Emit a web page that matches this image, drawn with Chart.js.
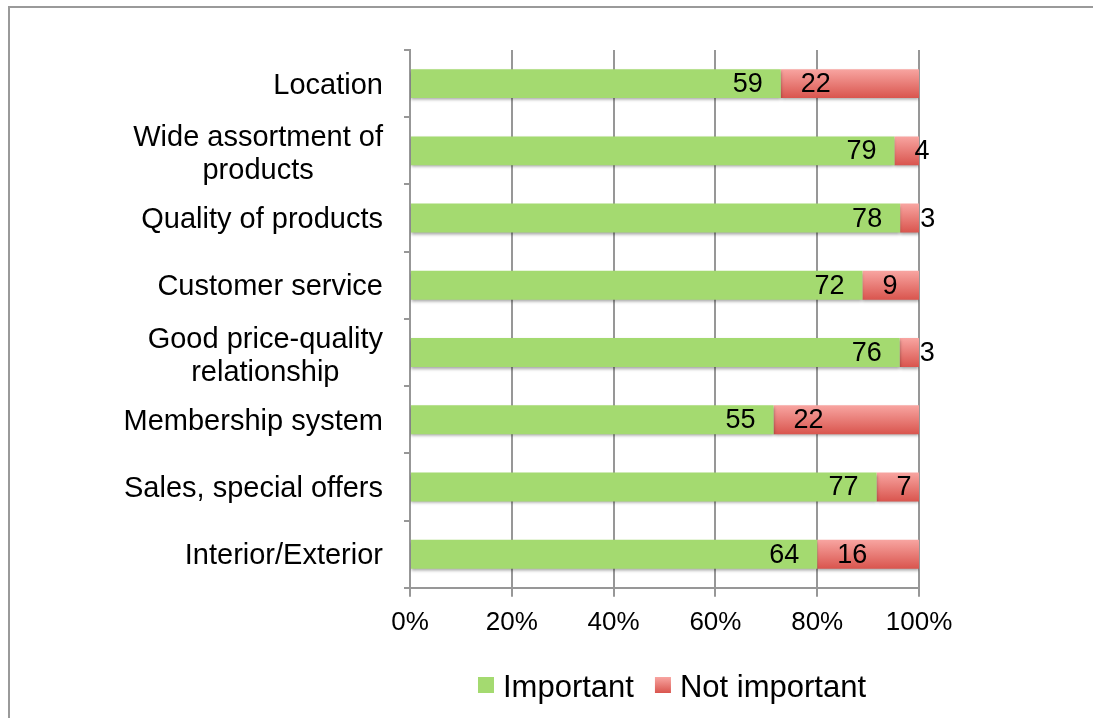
<!DOCTYPE html>
<html>
<head>
<meta charset="utf-8">
<script src="https://cdn.jsdelivr.net/npm/chart.js@4.4.1/dist/chart.umd.min.js"></script>
<style>
  html, body { margin: 0; padding: 0; background: #fff; overflow: hidden; }
  .frame {
    position: absolute; left: 8px; top: 6px; width: 1200px; height: 800px;
    border-left: 2px solid #9a9a9a; border-top: 2px solid #9a9a9a;
  }
  #chart { position: absolute; left: 0; top: 0; z-index: 1; }
</style>
</head>
<body>
<div class="frame"></div>
<canvas id="chart" width="1093" height="718"></canvas>
<script>
// Survey answers per store attribute (number of respondents)
const categories = [
  "Location",
  ["Wide assortment of", "products"],
  "Quality of products",
  "Customer service",
  ["Good price-quality", "relationship"],
  "Membership system",
  "Sales, special offers",
  "Interior/Exterior",
];
const important = [59, 79, 78, 72, 76, 55, 77, 64];
const notImportant = [22, 4, 3, 9, 3, 22, 7, 16];
const xTicks = [0, 20, 40, 60, 80, 100];

const FONT = "'Liberation Sans', Arial, sans-serif";
const GREEN = "#a4da70";
const RED_TOP = "#f8a5a1";
const RED_BOTTOM = "#d9554e";
const GRID = "#979797";
const BAR_PCT = 0.43;

// 100% stacked shares
const totals = important.map((v, i) => v + notImportant[i]);
const importantPct = important.map((v, i) => (v / totals[i]) * 100);
const notImportantPct = notImportant.map((v, i) => (v / totals[i]) * 100);

// pink-to-red vertical gradient for each "Not important" bar
function redFill(context) {
  const chart = context.chart;
  if (!chart.chartArea || !chart.scales.y) return "#ec7e78";
  const y = chart.scales.y;
  const center = y.getPixelForValue(context.dataIndex);
  const half = (y.height / categories.length) * BAR_PCT / 2;
  const g = chart.ctx.createLinearGradient(0, center - half, 0, center + half);
  g.addColorStop(0, RED_TOP);
  g.addColorStop(1, RED_BOTTOM);
  return g;
}

// soft shadow under the bars
const barShadow = {
  id: "barShadow",
  beforeDatasetsDraw(chart) {
    const ctx = chart.ctx;
    ctx.save();
    ctx.shadowColor = "rgba(0,0,0,0.35)";
    ctx.shadowBlur = 3;
    ctx.shadowOffsetY = 2;
  },
  afterDatasetsDraw(chart) {
    chart.ctx.restore();
  },
};

// value labels: end of the green part, start of the red part
const valueLabels = {
  id: "valueLabels",
  afterDatasetsDraw(chart) {
    const ctx = chart.ctx;
    ctx.save();
    ctx.font = "27px " + FONT;
    ctx.fillStyle = "#000";
    ctx.textBaseline = "middle";
    const values = [important, notImportant];
    [0, 1].forEach((ds) => {
      chart.getDatasetMeta(ds).data.forEach((bar, i) => {
        if (ds === 0) {
          ctx.textAlign = "right";
          ctx.fillText(values[ds][i], bar.x - 18, bar.y + 1);
        } else {
          ctx.textAlign = "left";
          ctx.fillText(values[ds][i], bar.base + 20, bar.y + 1);
        }
      });
    });
    ctx.restore();
  },
};

// category names: right-aligned block, wrapped lines centred within it
const categoryLabels = {
  id: "categoryLabels",
  afterDraw(chart) {
    const ctx = chart.ctx;
    const y = chart.scales.y;
    const right = chart.chartArea.left - 27;
    const lineH = 33;
    ctx.save();
    ctx.font = "29px " + FONT;
    ctx.fillStyle = "#000";
    ctx.textBaseline = "middle";
    ctx.textAlign = "center";
    categories.forEach((label, i) => {
      const lines = Array.isArray(label) ? label : [label];
      const widest = Math.max(...lines.map((l) => ctx.measureText(l).width));
      const cx = right - widest / 2;
      const cy = y.getPixelForValue(i) + (lines.length > 1 ? 4 : 2);
      lines.forEach((line, j) => {
        ctx.fillText(line, cx, cy + (j - (lines.length - 1) / 2) * lineH);
      });
    });
    ctx.restore();
  },
};

// legend under the x axis
const bottomLegend = {
  id: "bottomLegend",
  afterDraw(chart) {
    const ctx = chart.ctx;
    const box = 16, gap = 9, itemGap = 21;
    const centerX = 672, boxTop = 677;
    ctx.save();
    ctx.font = "31px " + FONT;
    ctx.textBaseline = "middle";
    ctx.textAlign = "left";
    const items = chart.data.datasets.map((d) => ({ text: d.label, w: ctx.measureText(d.label).width }));
    const total = items.reduce((s, it) => s + box + gap + it.w, 0) + itemGap * (items.length - 1);
    let x = centerX - total / 2;
    items.forEach((it, i) => {
      if (i === 0) {
        ctx.fillStyle = GREEN;
      } else {
        const g = ctx.createLinearGradient(0, boxTop, 0, boxTop + box);
        g.addColorStop(0, RED_TOP);
        g.addColorStop(1, RED_BOTTOM);
        ctx.fillStyle = g;
      }
      ctx.fillRect(x, boxTop, box, box);
      x += box + gap;
      ctx.fillStyle = "#000";
      ctx.fillText(it.text, x, boxTop + box / 2 + 3);
      x += it.w + itemGap;
    });
    ctx.restore();
  },
};

new Chart(document.getElementById("chart"), {
  type: "bar",
  data: {
    labels: categories,
    datasets: [
      {
        label: "Important",
        data: importantPct,
        backgroundColor: GREEN,
        barPercentage: BAR_PCT,
        categoryPercentage: 1,
      },
      {
        label: "Not important",
        data: notImportantPct,
        backgroundColor: redFill,
        barPercentage: BAR_PCT,
        categoryPercentage: 1,
      },
    ],
  },
  options: {
    indexAxis: "y",
    responsive: false,
    animation: false,
    layout: { padding: { top: 50, left: 404, right: 174, bottom: 70 } },
    plugins: {
      legend: { display: false },
      tooltip: { enabled: false },
    },
    scales: {
      x: {
        stacked: true,
        min: 0,
        max: 100,
        afterBuildTicks(scale) {
          scale.ticks = xTicks.map((v) => ({ value: v }));
        },
        ticks: {
          callback: (v) => v + "%",
          color: "#000",
          font: { family: FONT, size: 26 },
          padding: 10,
          maxRotation: 0,
        },
        grid: { color: GRID, lineWidth: 2, tickLength: 9 },
        border: { color: GRID, width: 2 },
      },
      y: {
        stacked: true,
        ticks: { display: false },
        grid: { color: GRID, lineWidth: 2, drawOnChartArea: false, tickLength: 6, offset: true },
        border: { color: GRID, width: 2 },
      },
    },
  },
  plugins: [barShadow, valueLabels, categoryLabels, bottomLegend],
});
</script>
</body>
</html>
